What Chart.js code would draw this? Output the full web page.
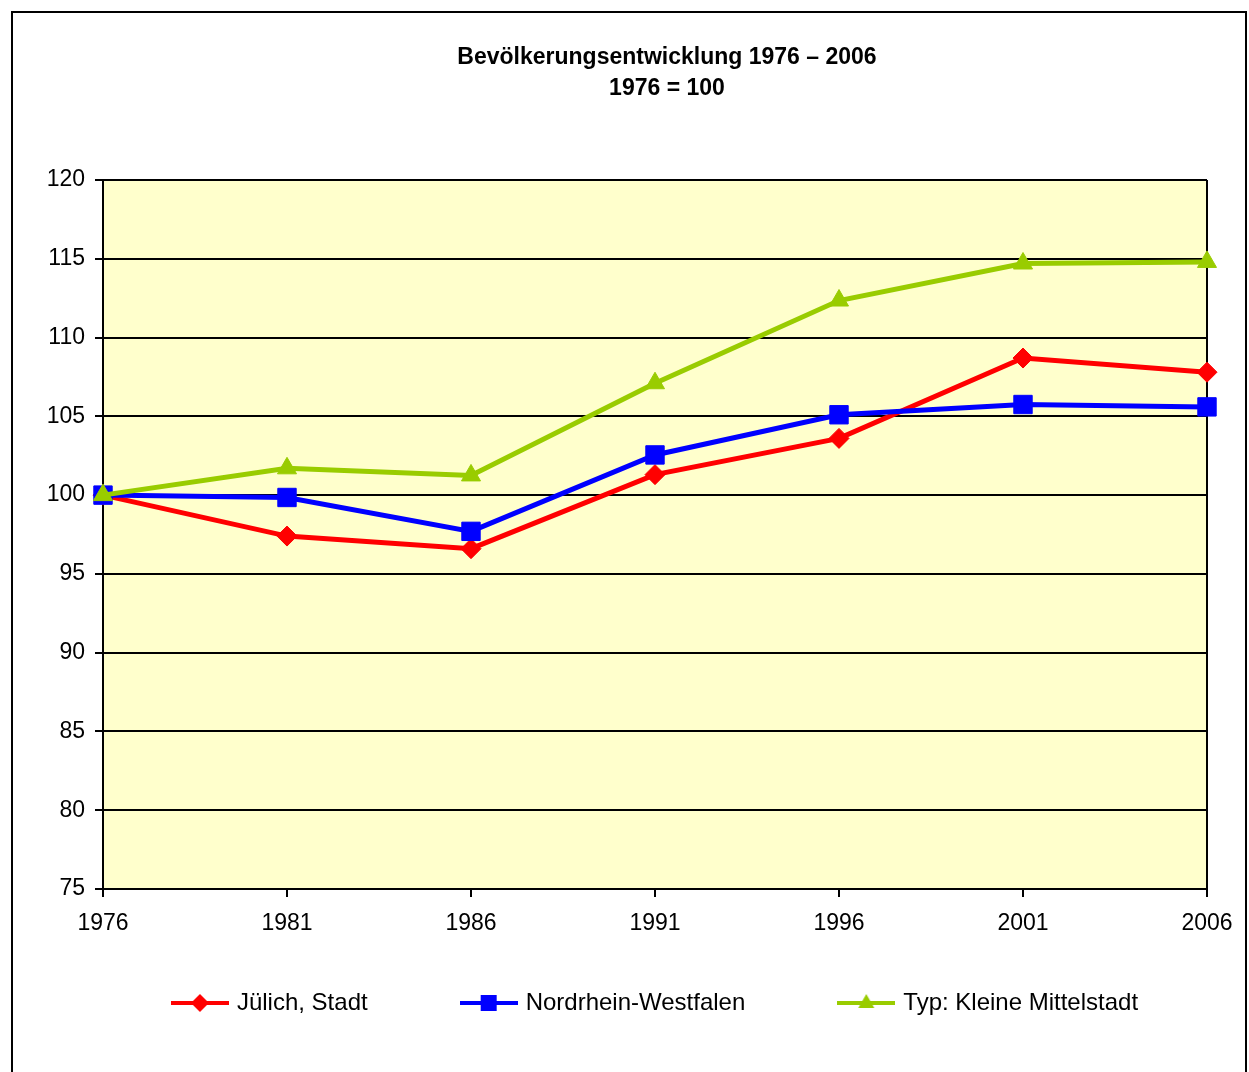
<!DOCTYPE html>
<html lang="de">
<head>
<meta charset="utf-8">
<title>Bevölkerungsentwicklung 1976 – 2006</title>
<script src="https://cdn.jsdelivr.net/npm/chart.js@4/dist/chart.umd.min.js"></script>
<style>
  html, body { margin: 0; padding: 0; background: #fff; overflow: hidden; }
  #wrap { position: relative; width: 1249px; height: 1072px; }
</style>
</head>
<body>
<div id="wrap"><canvas id="chart"></canvas></div>
<script>
// === Data ===
const years = ['1976', '1981', '1986', '1991', '1996', '2001', '2006'];
const juelich = [100, 97.4, 96.6, 101.3, 103.6, 108.7, 107.8];
const nrw = [100, 99.85, 97.7, 102.55, 105.1, 105.75, 105.6];
const kleineMittelstadt = [100, 101.7, 101.25, 107.1, 112.35, 114.7, 114.8];
const seriesNames = ['Jülich, Stadt', 'Nordrhein-Westfalen', 'Typ: Kleine Mittelstadt'];
const titleLines = ['Bevölkerungsentwicklung 1976 – 2006', '1976 = 100'];

const RED = '#ff0000';
const BLUE = '#0000ff';
const GREEN = '#99cc00';
const FONT = "'Liberation Sans', Arial, sans-serif";

// little line+marker pictures for the legend
function legendIcon(color, shape) {
  const c = document.createElement('canvas');
  c.width = 58; c.height = 24;
  const g = c.getContext('2d');
  g.strokeStyle = color;
  g.fillStyle = color;
  g.lineWidth = 4;
  g.beginPath(); g.moveTo(0, 12); g.lineTo(58, 12); g.stroke();
  g.beginPath();
  if (shape === 'diamond') {
    g.moveTo(29, 3); g.lineTo(38, 12); g.lineTo(29, 21); g.lineTo(20, 12);
  } else if (shape === 'square') {
    g.rect(21, 4, 16, 16);
  } else {
    g.moveTo(29, 3); g.lineTo(37, 17); g.lineTo(21, 17);
  }
  g.closePath(); g.fill();
  return c;
}
const icons = [legendIcon(RED, 'diamond'), legendIcon(BLUE, 'square'), legendIcon(GREEN, 'triangle')];

// plot background, outer frame and title
const decor = {
  id: 'decor',
  afterLayout(chart) {
    // the legend in the original sits right of centre and further down
    const lg = chart.legend;
    if (lg) {
      lg.left += 47;
      lg.right += 47;
      lg.top = 895;
      lg.bottom = 1040;
      lg.height = lg.bottom - lg.top;
    }
  },
  beforeDraw(chart) {
    const { ctx, chartArea: a } = chart;
    ctx.save();
    ctx.fillStyle = '#ffffcc';
    ctx.fillRect(a.left, a.top, a.right - a.left, a.bottom - a.top);
    ctx.restore();
  },
  afterDraw(chart) {
    const ctx = chart.ctx;
    ctx.save();
    ctx.strokeStyle = '#000';
    ctx.lineWidth = 2;
    ctx.strokeRect(12, 12, 1234, 1100);
    ctx.fillStyle = '#000';
    ctx.font = 'bold 23px ' + FONT;
    ctx.textAlign = 'center';
    ctx.textBaseline = 'middle';
    ctx.fillText(titleLines[0], 667, 58);
    ctx.fillText(titleLines[1], 667, 89);
    ctx.restore();
  }
};

const lastIdx = years.length - 1;

new Chart(document.getElementById('chart'), {
  type: 'line',
  data: {
    labels: years,
    datasets: [
      { label: seriesNames[0], data: juelich, borderColor: RED, backgroundColor: RED,
        pointStyle: 'rectRot', pointRadius: 10, order: 2 },
      { label: seriesNames[1], data: nrw, borderColor: BLUE, backgroundColor: BLUE,
        pointStyle: 'rect', pointRadius: 13, order: 1 },
      { label: seriesNames[2], data: kleineMittelstadt, borderColor: GREEN, backgroundColor: GREEN,
        pointStyle: 'triangle', pointRadius: 11, order: 0 }
    ]
  },
  options: {
    responsive: true,
    maintainAspectRatio: false,
    animation: false,
    events: [],
    datasets: {
      line: { borderWidth: 5, tension: 0, pointBorderWidth: 1, clip: false }
    },
    layout: { padding: { left: 12, right: 42, top: 180, bottom: 31 } },
    plugins: {
      title: { display: false },
      tooltip: { enabled: false },
      legend: {
        position: 'bottom',
        maxHeight: 60,
        labels: {
          usePointStyle: true,
          pointStyleWidth: 50,
          padding: 96,
          color: '#000',
          font: { family: FONT, size: 24 },
          generateLabels: chart => chart.data.datasets.map((ds, i) => ({
            text: ds.label,
            fillStyle: ds.borderColor,
            strokeStyle: ds.borderColor,
            pointStyle: icons[i],
            datasetIndex: i,
            hidden: false,
            fontColor: '#000'
          }))
        }
      }
    },
    scales: {
      x: {
        offset: false,
        afterFit: s => { s.height = 92; },
        grid: {
          drawOnChartArea: true,
          color: c => (c.index === 0 || c.index === lastIdx) ? '#000' : 'rgba(0,0,0,0)',
          tickColor: '#000',
          tickLength: 8,
          lineWidth: 2
        },
        border: { display: true, color: '#000', width: 2 },
        ticks: {
          color: '#000',
          padding: 13,
          maxRotation: 0,
          autoSkip: false,
          font: { family: FONT, size: 23 }
        }
      },
      y: {
        min: 75,
        max: 120,
        afterFit: s => { s.width = 91; },
        grid: { color: '#000', tickColor: '#000', tickLength: 8, lineWidth: 2 },
        border: { display: true, color: '#000', width: 2 },
        ticks: {
          stepSize: 5,
          color: '#000',
          padding: 10,
          font: { family: FONT, size: 23 }
        }
      }
    }
  },
  plugins: [decor]
});
</script>
</body>
</html>
